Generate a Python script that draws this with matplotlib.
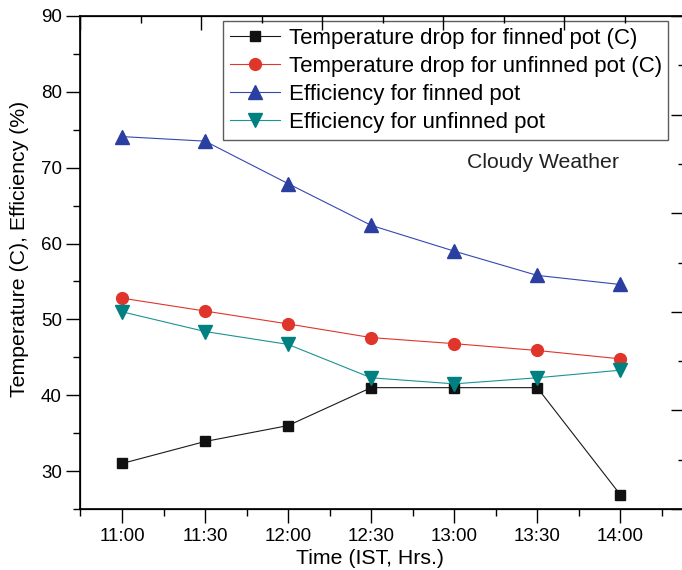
import numpy as np
import matplotlib
matplotlib.use("Agg")
import matplotlib.pyplot as plt
from matplotlib.ticker import MultipleLocator

plt.rcParams["font.family"] = ["Liberation Sans", "DejaVu Sans"]

# ---------------------------------------------------------------------------
# Data
# ---------------------------------------------------------------------------
times = ["11:00", "11:30", "12:00", "12:30", "13:00", "13:30", "14:00"]

temp_finned   = [31.0, 33.9, 36.0, 41.0, 41.0, 41.0, 26.9]
temp_unfinned = [52.8, 51.1, 49.4, 47.6, 46.8, 45.9, 44.8]
eff_finned    = [74.1, 73.5, 67.9, 62.4, 59.0, 55.8, 54.6]
eff_unfinned  = [51.0, 48.4, 46.7, 42.3, 41.5, 42.3, 43.3]

labels = [
    "Temperature drop for finned pot (C)",
    "Temperature drop for unfinned pot (C)",
    "Efficiency for finned pot",
    "Efficiency for unfinned pot",
]

# ---------------------------------------------------------------------------
# Figure
# ---------------------------------------------------------------------------
W, H = 682, 570
fig = plt.figure(figsize=(W / 100, H / 100), dpi=100)
left, right, top, bottom = 80, 685, 16, 509
ax = fig.add_axes([left / W, 1 - bottom / H, (right - left) / W, (bottom - top) / H])

x = np.arange(len(times))

ax.plot(x, temp_finned, color="#1a1a1a", lw=0.8, marker="s", ms=7.2,
        mfc="#111111", mec="#111111", label=labels[0])
ax.plot(x, temp_unfinned, color="#e0352a", lw=0.8, marker="o", ms=8.5,
        mfc="#e0352a", mec="#e0352a", label=labels[1])
ax.plot(x, eff_finned, color="#3548b0", lw=0.8, marker="^", ms=10,
        mfc="#2b3fa0", mec="#2b3fa0", label=labels[2])
ax.plot(x, eff_unfinned, color="#1a9494", lw=0.8, marker="v", ms=10,
        mfc="#008080", mec="#008080", label=labels[3])

ax.set_xlim(-0.506, 6.78)
ax.set_ylim(25, 90)
ax.set_xticks(x)
ax.set_xticklabels(times)
ax.xaxis.set_minor_locator(MultipleLocator(0.5))
ax.yaxis.set_minor_locator(MultipleLocator(5))
ax.set_yticks([30, 40, 50, 60, 70, 80, 90])

ax.tick_params(axis="both", which="major", direction="out", length=10,
               width=1.0, labelsize=13.5, pad=4)
ax.tick_params(axis="both", which="minor", direction="out", length=5, width=1.0)
ax.tick_params(axis="y", which="major", pad=3)

for s in ax.spines.values():
    s.set_linewidth(1.2)

ax.set_xlabel("Time (IST, Hrs.)", fontsize=15.3)
ax.set_ylabel("Temperature (C), Efficiency (%)", fontsize=15.3)
ax.xaxis.set_label_coords((370 - left) / (right - left), -0.082)
ax.yaxis.set_label_coords(-0.085, (bottom - 249) / (bottom - top))

# top / right frame ticks (separate scales, pointing inward)
axt = ax.twiny()
axt.set_xlim(0, 5)
axt.xaxis.set_major_locator(MultipleLocator(1))
axt.xaxis.set_minor_locator(MultipleLocator(0.5))
axt.tick_params(axis="x", which="major", direction="in", length=10, width=1.0, labeltop=False)
axt.tick_params(axis="x", which="minor", direction="in", length=5, width=1.0)

axr = ax.twinx()
axr.set_ylim(0, 5)
axr.yaxis.set_major_locator(MultipleLocator(1))
axr.yaxis.set_minor_locator(MultipleLocator(0.5))
axr.tick_params(axis="y", which="major", direction="in", length=10, width=1.0, labelright=False)
axr.tick_params(axis="y", which="minor", direction="in", length=5, width=1.0)

ax.text(4.16, 70.7, "Cloudy Weather", fontsize=15.3, ha="left", va="center",
        color="#222222")

leg = ax.legend(loc="upper left", bbox_to_anchor=(223 / W, 1 - 21 / H),
                bbox_transform=fig.transFigure, fontsize=16, frameon=True,
                fancybox=False, edgecolor="#333333", borderaxespad=0,
                handlelength=2.25, handletextpad=0.4, labelspacing=0.32,
                borderpad=0.3)
leg.get_frame().set_linewidth(1.0)
leg.set_zorder(5)

fig.savefig("out.png", dpi=100)
